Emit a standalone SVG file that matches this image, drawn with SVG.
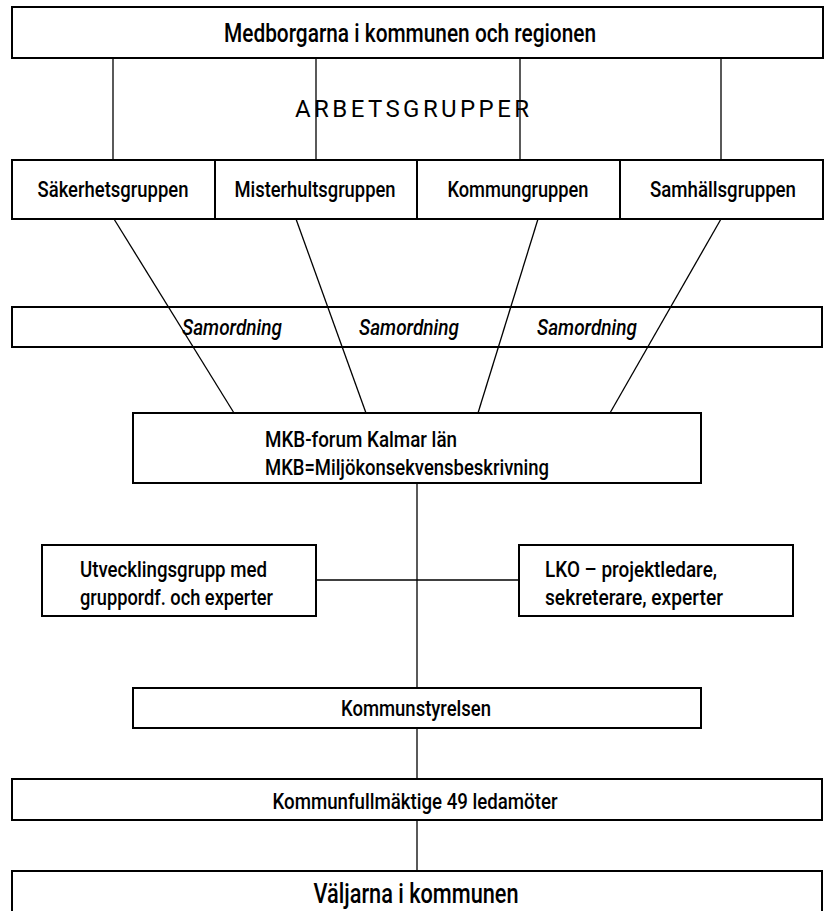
<svg xmlns="http://www.w3.org/2000/svg" width="825" height="911" viewBox="0 0 825 911">
<style>
.box{fill:#fff;stroke:#000;stroke-width:2}
.ln{stroke:#000;stroke-width:1.3;fill:none}
text{font-family:Roboto,"Liberation Sans",sans-serif;font-weight:500;fill:#000}
.t{font-size:22px}
.c{text-anchor:middle}
.big{font-size:25px}
.huge{font-size:27px}
.it{font-style:italic;font-size:22px}
.sp{font-size:24px;font-weight:400}
</style>
<rect width="825" height="911" fill="#fff"/>
<g id="connectors">
<line class="ln" x1="113" y1="58" x2="113" y2="160"/>
<line class="ln" x1="316" y1="58" x2="316" y2="160"/>
<line class="ln" x1="520" y1="58" x2="520" y2="160"/>
<line class="ln" x1="721" y1="58" x2="721" y2="160"/>
<line class="ln" x1="114" y1="219" x2="234" y2="413"/>
<line class="ln" x1="296" y1="219" x2="366" y2="413"/>
<line class="ln" x1="538" y1="219" x2="478" y2="413"/>
<line class="ln" x1="721" y1="219" x2="610" y2="413"/>
<line class="ln" x1="417" y1="483" x2="417" y2="688"/>
<line class="ln" x1="316" y1="580" x2="519" y2="580"/>
<line class="ln" x1="417" y1="728" x2="417" y2="779"/>
<line class="ln" x1="417" y1="820" x2="417" y2="871"/>
</g>
<g id="medborgarna">
<rect class="box" x="12" y="7" width="811" height="51"/>
<text class="big c" x="410" y="42" textLength="372" lengthAdjust="spacingAndGlyphs">Medborgarna i kommunen och regionen</text>
</g>
<g id="arbetsgrupper">
<text class="sp" x="295" y="117" textLength="234">ARBETSGRUPPER</text>
</g>
<g id="sakerhetsgruppen">
<rect class="box" x="12" y="160" width="203" height="59"/>
<text class="t c" x="113" y="197" textLength="151" lengthAdjust="spacingAndGlyphs">Säkerhetsgruppen</text>
</g>
<g id="misterhultsgruppen">
<rect class="box" x="215" y="160" width="202" height="59"/>
<text class="t c" x="315" y="197" textLength="161" lengthAdjust="spacingAndGlyphs">Misterhultsgruppen</text>
</g>
<g id="kommungruppen">
<rect class="box" x="417" y="160" width="203" height="59"/>
<text class="t c" x="518" y="197" textLength="141" lengthAdjust="spacingAndGlyphs">Kommungruppen</text>
</g>
<g id="samhallsgruppen">
<rect class="box" x="620" y="160" width="203" height="59"/>
<text class="t c" x="723" y="197" textLength="146" lengthAdjust="spacingAndGlyphs">Samhällsgruppen</text>
</g>
<g id="samordning">
<rect class="box" x="12" y="307" width="810" height="40" fill-opacity="0"/>
<text class="it c" x="232" y="335" textLength="100" lengthAdjust="spacingAndGlyphs">Samordning</text>
<text class="it c" x="409" y="335" textLength="100" lengthAdjust="spacingAndGlyphs">Samordning</text>
<text class="it c" x="587" y="335" textLength="100" lengthAdjust="spacingAndGlyphs">Samordning</text>
</g>
<g id="mkb-forum">
<rect class="box" x="133" y="413" width="568" height="70"/>
<text class="t" x="265" y="447" textLength="192" lengthAdjust="spacingAndGlyphs">MKB-forum Kalmar län</text>
<text class="t" x="265" y="475" textLength="284" lengthAdjust="spacingAndGlyphs">MKB=Miljökonsekvensbeskrivning</text>
</g>
<g id="utvecklingsgrupp">
<rect class="box" x="42" y="545" width="274" height="71"/>
<text class="t" x="80" y="577" textLength="187" lengthAdjust="spacingAndGlyphs">Utvecklingsgrupp med</text>
<text class="t" x="80" y="605" textLength="193" lengthAdjust="spacingAndGlyphs">gruppordf. och experter</text>
</g>
<g id="lko">
<rect class="box" x="519" y="545" width="274" height="71"/>
<text class="t" x="545" y="577" textLength="172" lengthAdjust="spacingAndGlyphs">LKO – projektledare,</text>
<text class="t" x="545" y="605" textLength="178" lengthAdjust="spacingAndGlyphs">sekreterare, experter</text>
</g>
<g id="kommunstyrelsen">
<rect class="box" x="133" y="688" width="568" height="40"/>
<text class="t c" x="416" y="716" textLength="150" lengthAdjust="spacingAndGlyphs">Kommunstyrelsen</text>
</g>
<g id="kommunfullmaktige">
<rect class="box" x="12" y="779" width="810" height="41"/>
<text class="t c" x="415" y="809" textLength="285" lengthAdjust="spacingAndGlyphs">Kommunfullmäktige 49 ledamöter</text>
</g>
<g id="valjarna">
<rect class="box" x="12" y="871" width="810" height="45"/>
<text class="huge c" x="416" y="903" textLength="205" lengthAdjust="spacingAndGlyphs">Väljarna i kommunen</text>
</g>
</svg>
